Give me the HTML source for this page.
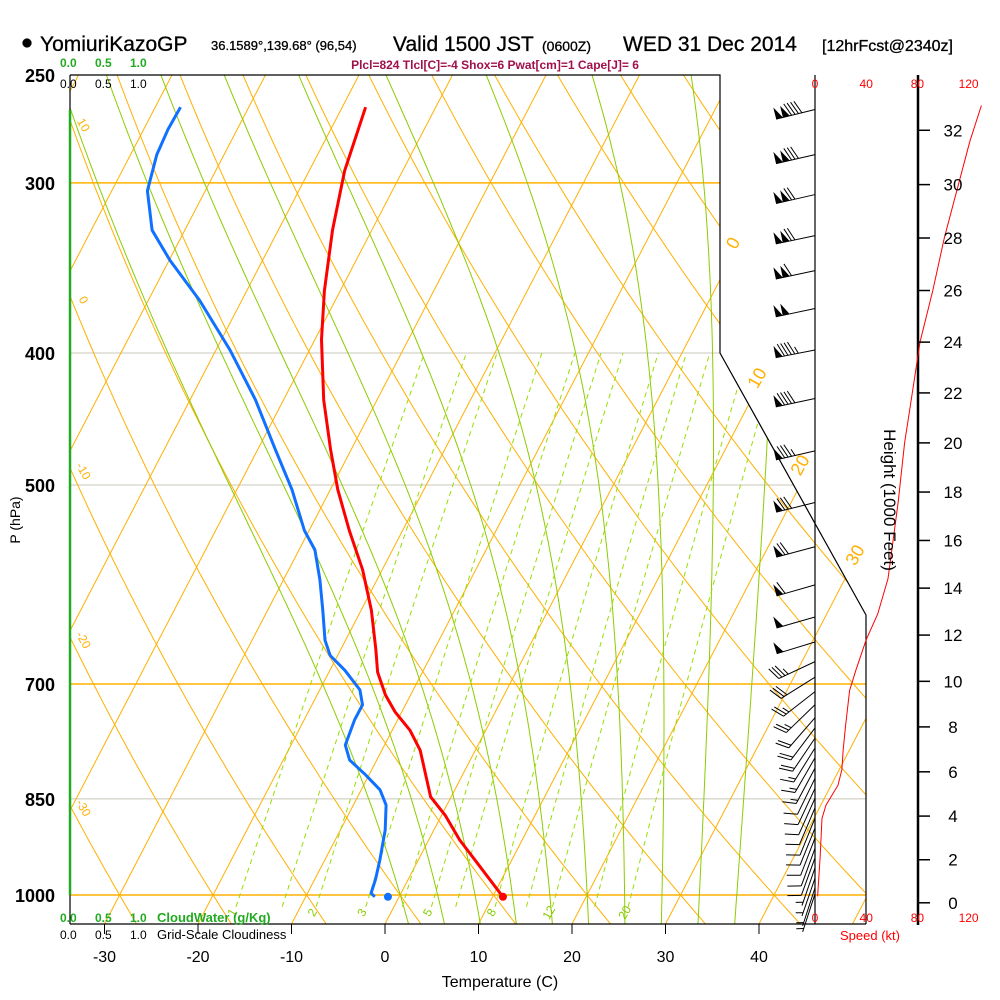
<!DOCTYPE html>
<html><head><meta charset="utf-8"><style>
html,body{margin:0;padding:0;background:#fff;overflow:hidden;}
svg{display:block;font-family:"Liberation Sans",sans-serif;}
</style></head><body>
<svg id="chart" width="1000" height="1000" viewBox="0 0 1000 1000" xmlns="http://www.w3.org/2000/svg">
<defs><clipPath id="plotclip"><polygon points="70,75 720,75 720,353 866,615 866,924 70,924"/></clipPath></defs>
<rect width="1000" height="1000" fill="#fff"/>
<g stroke="#000" stroke-width="0.3">
<circle cx="27" cy="43" r="4.5" fill="#000"/>
<text x="40" y="51" font-size="21">YomiuriKazoGP</text>
<text x="211" y="50" font-size="13">36.1589°,139.68° (96,54)</text>
<text x="393" y="51" font-size="21">Valid 1500 JST</text>
<text x="542" y="51" font-size="14">(0600Z)</text>
<text x="623" y="51" font-size="21">WED 31 Dec 2014</text>
<text x="822" y="51" font-size="16">[12hrFcst@2340z]</text>
</g>
<text x="495" y="69" font-size="12" font-weight="bold" fill="#a0104a" text-anchor="middle">Plcl=824 Tlcl[C]=-4 Shox=6 Pwat[cm]=1 Cape[J]= 6</text>
<g id="grid" clip-path="url(#plotclip)"></g>
<g id="profiles"></g>
<g id="frame"></g>
<g id="barbs"></g>
<g id="labels"></g>
</svg>
<script>
// ---- data ----
const tempP = [264,294,325,360,391,433,471,504,540,577,618,661,686,713,734,757,783,810,847,874,911,943,1003];
const tempC = [-47.5,-46.2,-44.2,-41.7,-39.3,-35.7,-32.2,-29.2,-25.7,-22.1,-18.9,-16.2,-14.8,-12.7,-10.7,-8.1,-5.9,-4.3,-2.2,0.4,3.3,6.1,11.1];
const dewP = [264,274,286,304,325,342,366,398,433,471,504,540,558,587,618,650,667,684,707,725,744,776,796,816,837,859,896,943,974,997,1003];
const dewC = [-67.3,-67.4,-67.2,-66.2,-63.5,-59.9,-54.5,-48.5,-43.0,-38.1,-34.1,-30.5,-28.3,-26.1,-24.1,-22.2,-20.8,-18.4,-15.7,-14.6,-14.6,-14.2,-12.9,-10.4,-8.0,-6.5,-5.2,-4.1,-3.5,-3.2,-2.6];
const sfcTemp = 11.1, sfcDew = -1.2, sfcP = 1003;
const barbP = [265,286,306,328,348,371,398,432,472,515,555,592,625,652,674,692,709,725,741,754,767,780,793,807,821,835,849,863,878,893,908,924,939,955,972,988,998];
const barbSpd = [140,130,120,120,110,100,95,90,85,80,70,60,50,50,35,30,25,25,20,20,18,15,15,15,12,12,10,10,10,10,8,8,8,7,7,5,5];
const barbDir = [256,257,257,258,258,258,259,258,257,256,255,254,254,253,245,238,232,226,221,217,214,212,210,208,206,205,204,203,202,202,201,200,200,199,199,198,198];
const spdHeight = [0.3,2.1,3.9,4.5,5.4,6.1,7,8.1,9.6,10.5,11.8,12.9,14.4,16,17.6,20,22,24,26,28,30,31.6,32.9];
const spdKt = [2,4,5.5,8.6,18,21,22,24,27,32,40,49,57,61,65,70,76,82,92,101,112,121,130];
const pLevels = [250,300,400,500,700,850,1000];
const tTicks = [-30,-20,-10,0,10,20,30,40];
const hTicks = [0,2,4,6,8,10,12,14,16,18,20,22,24,26,28,30,32];
const spdTicks = [0,40,80,120];
const mixRatios = [1,1.5,2,3,4,5,6,8,10,12,16,20];
const mixLabels = [1,2,3,5,8,12,20];
const moistStarts = [0,4,8,12,16,20,24,28,32,36];
const thetaLabels = [10,0,-10,-20,-30];

// ---- axes ----
const NS='http://www.w3.org/2000/svg';
function yP(p){return 895-591.5*Math.log(1000/p);}
function xT(T,y){return 385+9.35*T+0.52*(924-y);}
function yH(h){const p=1013.25*Math.pow(1-6.8756e-6*h*1000,5.2559);return yP(p);}
function xS(s){return 815+1.28*s;}
function mk(tag,attrs,parent){const e=document.createElementNS(NS,tag);for(const k in attrs)e.setAttribute(k,attrs[k]);parent.appendChild(e);return e;}
function txt(x,y,s,attrs,parent){const e=mk('text',Object.assign({x:x,y:y},attrs),parent);e.textContent=s;return e;}
const grid=document.getElementById('grid'),prof=document.getElementById('profiles'),frame=document.getElementById('frame'),barbs=document.getElementById('barbs'),labels=document.getElementById('labels');
function ptsFromTP(Ps,Ts){return Ps.map((p,i)=>{const y=yP(p);return xT(Ts[i],y).toFixed(1)+','+y.toFixed(1);}).join(' ');}
function mixT(w,p){const e=w*p/(622+w);const a=Math.log(e/6.112);return 243.5*a/(17.67-a);}

pLevels.forEach(p=>{
  if(p===250)return;
  const y=yP(p);const orange=(p===300||p===700||p===1000);
  const l=mk('line',{x1:70,y1:y,x2:900,y2:y,stroke:orange?'#ffb000':'#c8c8b8','stroke-width':orange?1.5:1},grid);
  
  
});
for(let T=-160;T<=50;T+=10){
  const l=mk('line',{x1:xT(T,924),y1:924,x2:xT(T,75),y2:75,stroke:'#ffb000','stroke-width':1},grid);
  
  
}
for(let th=-50;th<=220;th+=10){
  const pts=[];
  for(let p=1060;p>=245;p-=10){const T=(th+273.15)*Math.pow(p/1000,0.2857)-273.15;const y=yP(p);pts.push(xT(T,y).toFixed(1)+','+y.toFixed(1));}
  const l=mk('polyline',{points:pts.join(' '),fill:'none',stroke:'#ffb000','stroke-width':1},grid);
  
  
}
function es(T){return 6.112*Math.exp(17.67*T/(T+243.5));}
function dTdp(T,p){const Tk=T+273.15;const rs=0.622*es(T)/(p-es(T));const Lv=2.5e6,Rd=287,cp=1005;
  return (Rd*Tk+Lv*rs)/(p*(cp+Lv*Lv*rs*0.622/(Rd*Tk*Tk)));}
moistStarts.forEach(t0=>{
  const pts=[];
  let T=t0;for(let p=1000;p<1060;p+=5){T+=dTdp(T,p)*5;}
  for(let p=1060;p>=245;p-=5){const y=yP(p);pts.push(xT(T,y).toFixed(1)+','+y.toFixed(1));T-=dTdp(T,p)*5;}
  const l=mk('polyline',{points:pts.join(' '),fill:'none',stroke:'#8ccc00','stroke-width':1},grid);
  
  
});
mixRatios.forEach(w=>{
  const pts=[];
  for(let p=1020;p>=400;p-=10){const T=mixT(w,p);const y=yP(p);pts.push(xT(T,y).toFixed(1)+','+y.toFixed(1));}
  const l=mk('polyline',{points:pts.join(' '),fill:'none',stroke:'#99dd00','stroke-width':1,'stroke-dasharray':'5,4'},grid);
  
  
});
mixLabels.forEach(w=>{
  const p=1030;const T=mixT(w,p);const y=yP(p);const x=xT(T,y)-2;
  const t=txt(x,y+4,String(w),{'font-size':12,fill:'#88cc00','text-anchor':'middle',transform:'rotate(-60 '+x+' '+y+')'},labels);
  
  
});

const tl=mk('polyline',{points:ptsFromTP(tempP,tempC),fill:'none',stroke:'#ff0000','stroke-width':3,'stroke-linejoin':'round'},prof);


const dl=mk('polyline',{points:ptsFromTP(dewP,dewC),fill:'none',stroke:'#1070ff','stroke-width':3,'stroke-linejoin':'round'},prof);


const sy=yP(sfcP);
const td=mk('circle',{cx:xT(sfcTemp,sy),cy:sy,r:4,fill:'#ff0000'},prof);


const dd=mk('circle',{cx:xT(sfcDew,sy),cy:sy,r:4,fill:'#1070ff'},prof);



[['70,75 720,75 720,353 866,615 866,924','diagram-border'],['815,75 815,924','speed-zero-axis'],['70,924 866,924','temperature-axis'],['70,75 70,110','left-axis-top'],['70,895 70,924','left-axis-bottom']].forEach(a=>{
  const l=mk('polyline',{points:a[0],fill:'none',stroke:'#000','stroke-width':1.2},frame);
  
  
});
const cw=mk('line',{x1:70,y1:110,x2:70,y2:895,stroke:'#22aa22','stroke-width':2.5},frame);


const ha=mk('line',{x1:918,y1:75,x2:918,y2:925,stroke:'#000','stroke-width':2.5},frame);


const sl=mk('polyline',{points:spdHeight.map((h,i)=>xS(spdKt[i]).toFixed(1)+','+yH(h).toFixed(1)).join(' '),fill:'none',stroke:'#ff0000','stroke-width':1},frame);



barbP.forEach((p,i)=>{
  const y=yP(p),x=815,L=40,d=barbDir[i]*Math.PI/180;
  const ux=Math.sin(d),uy=-Math.cos(d);const fx=-uy,fy=ux;
  const g=mk('g',{},barbs);
  
  
  const ex=x+ux*L,ey=y+uy*L;
  mk('line',{x1:x,y1:y,x2:ex,y2:ey,stroke:'#000','stroke-width':1},g);
  let s=Math.round(barbSpd[i]/5)*5;let pos=0;
  while(s>=50){const ax=ex-ux*pos,ay=ey-uy*pos,bx=ex-ux*(pos+7),by=ey-uy*(pos+7);
    mk('polygon',{points:ax+','+ay+' '+bx+','+by+' '+(ax+fx*12)+','+(ay+fy*12),fill:'#000'},g);pos+=7;s-=50;}
  if(pos>0)pos+=2;
  while(s>=10){const ax=ex-ux*pos,ay=ey-uy*pos;mk('line',{x1:ax,y1:ay,x2:ax+fx*13+ux*5,y2:ay+fy*13+uy*5,stroke:'#000','stroke-width':1},g);pos+=3.5;s-=10;}
  if(s>=5){if(pos===0)pos=3.5;const ax=ex-ux*pos,ay=ey-uy*pos;mk('line',{x1:ax,y1:ay,x2:ax+fx*7+ux*2.5,y2:ay+fy*7+uy*2.5,stroke:'#000','stroke-width':1},g);}
});

pLevels.forEach(p=>{const t=txt(55,yP(p)+7,String(p),{'font-size':18,'font-weight':'bold','text-anchor':'end'},labels);
  
  });
tTicks.forEach(T=>{const x=385+9.35*T;
  const l=mk('line',{x1:x,y1:924,x2:x,y2:934,stroke:'#000'},labels);
  
  
  const t=txt(x,962,String(T),{'font-size':16,'text-anchor':'middle'},labels);
  
  });
hTicks.forEach(h=>{const y=yH(h);
  const l=mk('line',{x1:918,y1:y,x2:930,y2:y,stroke:'#000','stroke-width':1.5},labels);
  
  
  const t=txt(953,y+6,String(h),{'font-size':17,'text-anchor':'middle'},labels);
  
  });
spdTicks.forEach(s=>{[88,922].forEach(y=>{const t=txt(xS(s),y,String(s),{'font-size':12,fill:'#ff0000','text-anchor':'middle'},labels);
  
  });});
thetaLabels.forEach(th=>{
  let best=null;for(let p=250;p<=1050;p+=1){const T=(th+273.15)*Math.pow(p/1000,0.2857)-273.15;const y=yP(p);const x=xT(T,y);if(x>=72){best=[x,y];break;}}
  if(!best)return;const x=80,y=best[1];
  const t=txt(x,y,String(th),{'font-size':12,fill:'#ffb000','text-anchor':'middle',transform:'rotate(60 '+x+' '+y+')'},labels);
  
  });
[['0',733,243],['10',757,378],['20',800,465],['30',855,555]].forEach(a=>{
  const t=txt(a[1],a[2]+6,a[0],{'font-size':18,fill:'#ffb000','text-anchor':'middle',transform:'rotate(-60 '+a[1]+' '+a[2]+')'},labels);
  
  });
[[67,'#22aa22'],[88,'#000'],[922,'#22aa22'],[939,'#000']].forEach(r=>{
  [[60,'0.0'],[95,'0.5'],[130,'1.0']].forEach(c=>{const t=txt(c[0],r[0],c[1],{'font-size':12,fill:r[1],'font-weight':r[1]==='#000'?'normal':'bold'},labels);
    
    });});
function addT(x,y,s,a,name){const e=txt(x,y,s,a,labels);

}
addT(157,922,'CloudWater (g/Kg)',{'font-size':13,'font-weight':'bold',fill:'#22aa22'},'cloud-water-legend');
addT(157,939,'Grid-Scale Cloudiness',{'font-size':13},'cloudiness-legend');
addT(500,987,'Temperature (C)',{'font-size':16,'text-anchor':'middle'},'x-axis-title');
addT(870,940,'Speed (kt)',{'font-size':13,fill:'#ff0000','text-anchor':'middle'},'speed-axis-title');
addT(20,520,'P (hPa)',{'font-size':14,'text-anchor':'middle',transform:'rotate(-90 20 520)'},'y-axis-title');
addT(884,500,'Height (1000 Feet)',{'font-size':17,'text-anchor':'middle',transform:'rotate(90 884 500)'},'height-axis-title');
</script>
</body></html>
